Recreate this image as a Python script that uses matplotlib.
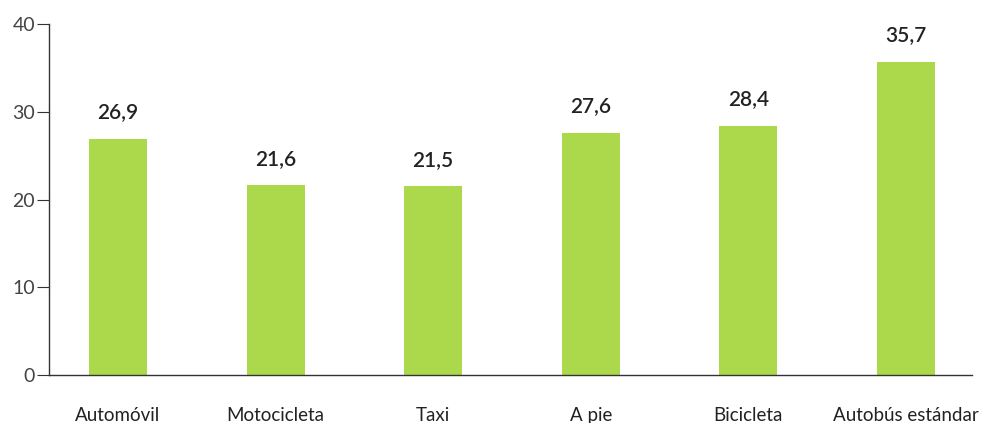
import matplotlib.pyplot as plt

categories = ['Automóvil', 'Motocicleta', 'Taxi', 'A pie', 'Bicicleta', 'Autobús estándar']
values = [26.9, 21.6, 21.5, 27.6, 28.4, 35.7]
value_labels = ['26,9', '21,6', '21,5', '27,6', '28,4', '35,7']
yticks = [0, 10, 20, 30, 40]

plt.rcParams['font.family'] = ['Lato', 'DejaVu Sans']

fig = plt.figure(figsize=(9.82, 4.23), dpi=100)
ax = fig.add_axes([49 / 982, 1 - 375 / 423, (972 - 49) / 982, (375 - 24) / 423])

x = list(range(len(categories)))
bars = ax.bar(x, values, width=0.368, color='#acd84b')

for xi, v, lab in zip(x, values, value_labels):
    ax.annotate(lab, (xi, v), xytext=(0, 12), textcoords='offset points',
                ha='center', va='bottom', fontsize=15, fontweight='semibold',
                color='#222222')

ax.set_xlim(-0.438, 5.42)
ax.set_ylim(0, 40)
ax.set_yticks(yticks)
ax.set_xticks(x)
ax.set_xticklabels(categories, fontsize=13.5, color='#222222')
ax.tick_params(axis='x', length=0, pad=23)
ax.tick_params(axis='y', length=9, width=0.8, color='#333333', labelsize=14,
               labelcolor='#444444', pad=1)

for s in ('top', 'right'):
    ax.spines[s].set_visible(False)
for s in ('left', 'bottom'):
    ax.spines[s].set_color('#333333')
    ax.spines[s].set_linewidth(1.0)

fig.savefig('out.png', dpi=100)
